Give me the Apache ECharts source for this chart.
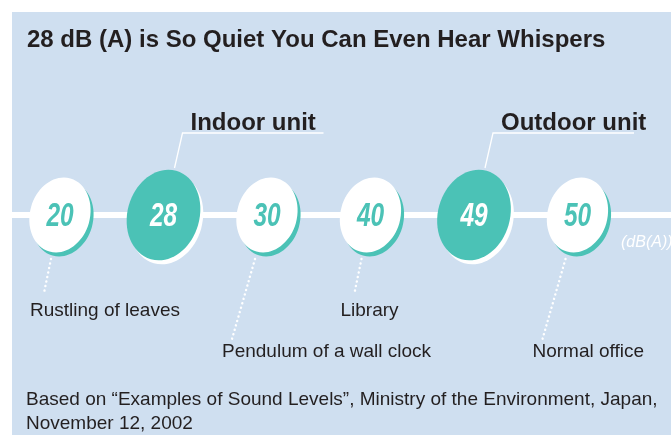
<!DOCTYPE html>
<html><head><meta charset="utf-8">
<script src="https://cdn.jsdelivr.net/npm/echarts@6/dist/echarts.min.js"></script>
<style>html,body{margin:0;padding:0;background:#fff}#c{width:671px;height:435px}</style>
</head><body><div id="c"></div>
<script>
// Data
const levels = [20, 28, 30, 40, 49, 50];
const units = ['', 'Indoor unit', '', '', 'Outdoor unit', ''];
const examples = ['Rustling of leaves', '', 'Pendulum of a wall clock', 'Library', '', 'Normal office'];
const titleText = '28 dB (A) is So Quiet You Can Even Hear Whispers';
const unitText = '(dB(A))';
const footer = ['Based on \u201cExamples of Sound Levels\u201d, Ministry of the Environment, Japan,', 'November 12, 2002'];

const TEAL = '#4bc2b6', BG = '#cfdff0', INK = '#231f20';
const FONT = '"Liberation Sans", Arial, Helvetica, sans-serif';

// row of example label (alternating among described items)
const rows = [];
let k = 0;
examples.forEach((e, i) => { rows[i] = e ? (k++ % 2 === 0 ? 1 : 2) : 0; });

const chart = echarts.init(document.getElementById('c'));
chart.setOption({
  animation: false,
  backgroundColor: '#fff',
  grid: { left: 60, right: 93.5, top: 115, bottom: 120 },
  xAxis: { type: 'category', data: levels.map(String), boundaryGap: false, show: false },
  yAxis: { type: 'value', min: -1, max: 1, show: false },
  graphic: [
    { type: 'rect', z: 0, shape: { x: 12, y: 12, width: 671, height: 440 }, style: { fill: BG } },
    { type: 'rect', z: 1, shape: { x: 12, y: 212, width: 671, height: 6 }, style: { fill: '#fff' } },
    { type: 'text', z: 1, x: 27, y: 40, style: { text: titleText, font: 'bold 24px ' + FONT, fill: INK, verticalAlign: 'middle' } },
    { type: 'text', z: 1, x: 621, y: 243, style: { text: unitText, font: 'italic 16px ' + FONT, fill: '#fff', verticalAlign: 'middle' } },
    { type: 'text', z: 1, x: 26, y: 400, style: { text: footer[0], font: '19px ' + FONT, fill: INK, verticalAlign: 'middle' } },
    { type: 'text', z: 1, x: 26, y: 424, style: { text: footer[1], font: '19px ' + FONT, fill: INK, verticalAlign: 'middle' } }
  ],
  series: [{
    type: 'custom',
    clip: false,
    data: levels.map((v, i) => [i, 0]),
    renderItem: function (params, api) {
      const i = api.value(0);
      const p = api.coord([i, 0]);
      const cx = p[0], cy = p[1];
      const hi = units[i] !== '';
      const rx = hi ? 36 : 30, ry = hi ? 46 : 38, rot = -0.28;
      const ch = [];
      ch.push({ type: 'ellipse', x: cx + 3, y: cy + 4, rotation: rot, shape: { cx: 0, cy: 0, rx: rx, ry: ry }, style: { fill: hi ? '#fff' : TEAL } });
      ch.push({ type: 'ellipse', x: cx, y: cy, rotation: rot, shape: { cx: 0, cy: 0, rx: rx, ry: ry }, style: { fill: hi ? TEAL : '#fff' } });
      ch.push({ type: 'text', x: cx, y: cy + 2, scaleX: 0.72, style: { text: String(levels[i]), font: 'italic bold 34px ' + FONT, fill: hi ? '#fff' : TEAL, align: 'center', verticalAlign: 'middle' } });
      if (hi) {
        ch.push({ type: 'polyline', shape: { points: [[cx + 11, cy - 47], [cx + 19, cy - 82], [cx + 160, cy - 82]] }, style: { stroke: '#fff', lineWidth: 1.3, fill: null } });
        ch.push({ type: 'text', x: cx + 27, y: cy - 92, style: { text: units[i], font: 'bold 24px ' + FONT, fill: INK, align: 'left', verticalAlign: 'middle' } });
      }
      if (rows[i] === 1) {
        ch.push({ type: 'line', shape: { x1: cx - 9, y1: cy + 44, x2: cx - 16, y2: cy + 78 }, style: { stroke: '#fff', lineWidth: 2.4, lineDash: [0.1, 4.5], lineCap: 'round' } });
        ch.push({ type: 'text', x: cx - 30, y: cy + 96, style: { text: examples[i], font: '19px ' + FONT, fill: INK, align: 'left', verticalAlign: 'middle' } });
      } else if (rows[i] === 2) {
        ch.push({ type: 'line', shape: { x1: cx - 12, y1: cy + 44, x2: cx - 35, y2: cy + 124 }, style: { stroke: '#fff', lineWidth: 2.4, lineDash: [0.1, 4.5], lineCap: 'round' } });
        ch.push({ type: 'text', x: cx - 45, y: cy + 137, style: { text: examples[i], font: '19px ' + FONT, fill: INK, align: 'left', verticalAlign: 'middle' } });
      }
      return { type: 'group', children: ch };
    }
  }]
});
</script></body></html>
